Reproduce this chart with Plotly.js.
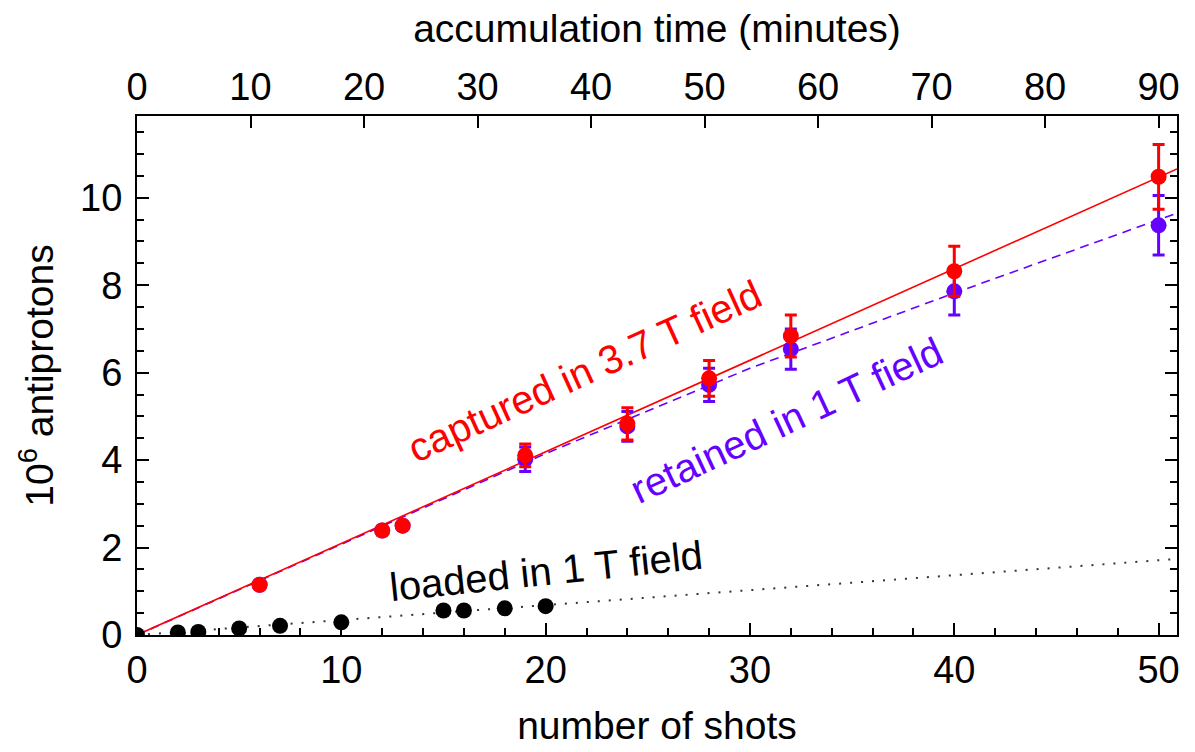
<!DOCTYPE html>
<html>
<head>
<meta charset="utf-8">
<script src="https://cdn.plot.ly/plotly-3.0.1.min.js"></script>
<style>html,body{margin:0;padding:0;background:#fff;}#chart{width:1195px;height:752px;}</style>
</head>
<body>
<div id="chart"></div>
<script>
// ---- data ----
const shotsLoaded = [0, 2, 3, 5, 7, 10, 15, 16, 18, 20];
const loaded      = [0, 0.06, 0.07, 0.15, 0.21, 0.29, 0.56, 0.56, 0.61, 0.66];

const shotsCaptured = [6, 12, 13, 19, 24, 28, 32, 40, 50];
const captured      = [1.15, 2.39, 2.50, 4.11, 4.83, 5.87, 6.84, 8.32, 10.48];
const capturedErr   = [0, 0, 0, 0.26, 0.37, 0.41, 0.48, 0.57, 0.74];

const shotsRetained = [6, 12, 13, 19, 24, 28, 32, 40, 50];
const retained      = [1.15, 2.39, 2.50, 4.02, 4.77, 5.72, 6.54, 7.86, 9.37];
const retainedErr   = [0, 0, 0, 0.28, 0.34, 0.38, 0.46, 0.54, 0.68];

// fitted lines as drawn in the reference
const fitCapturedX = [0, 50.9];
const fitCapturedY = [0, 10.66];
const fitRetainedX = [0, 20, 30, 40, 50.9];
const fitRetainedY = [0, 4.15, 6.1, 7.82, 9.65];
const fitLoadedX   = [0, 50.9];
const fitLoadedY   = [0, 1.74];

const xTicks = [0, 10, 20, 30, 40, 50];
const minuteTicks = [0, 10, 20, 30, 40, 50, 60, 70, 80, 90];
const yTicks = [0, 2, 4, 6, 8, 10];

const xMax = 50.9;
const minutesPerShot = 1.8;

const RED = '#ff0000', BLUE = '#6600ff', BLACK = '#000000';
const FONT = 'Liberation Sans, Arial, sans-serif';

const traces = [
  {x: fitLoadedX, y: fitLoadedY, mode: 'lines', line: {color: '#333', width: 2, dash: '2px,9px'}, hoverinfo: 'skip'},
  {x: fitRetainedX, y: fitRetainedY, mode: 'lines', line: {color: BLUE, width: 1.6, dash: '9px,6px'}, hoverinfo: 'skip'},
  {x: fitCapturedX, y: fitCapturedY, mode: 'lines', line: {color: RED, width: 1.6}, hoverinfo: 'skip'},
  {x: shotsRetained, y: retained, mode: 'markers', marker: {color: BLUE, size: 16},
   error_y: {type: 'data', array: retainedErr, visible: true, color: BLUE, thickness: 3, width: 6}},
  {x: shotsCaptured, y: captured, mode: 'markers', marker: {color: RED, size: 16},
   error_y: {type: 'data', array: capturedErr, visible: true, color: RED, thickness: 3, width: 6}},
  {x: shotsLoaded, y: loaded, mode: 'markers', marker: {color: BLACK, size: 16}},
  {x: [0], y: [0], xaxis: 'x2', mode: 'markers', marker: {opacity: 0}, hoverinfo: 'skip'}
];

const layout = {
  width: 1195, height: 752,
  margin: {l: 137, r: 18, t: 116, b: 117},
  paper_bgcolor: '#fff', plot_bgcolor: '#fff',
  showlegend: false,
  font: {family: FONT, color: '#000'},
  xaxis: {
    range: [0, xMax], showgrid: false, zeroline: false,
    showline: true, linecolor: '#000', linewidth: 2, mirror: true,
    tickmode: 'array', tickvals: xTicks, ticktext: xTicks.map(String),
    ticks: 'inside', ticklen: 12, tickwidth: 2, tickcolor: '#000',
    minor: {dtick: 2, tick0: 0, ticks: 'inside', ticklen: 7, tickwidth: 2, tickcolor: '#000', showgrid: false},
    tickfont: {size: 38, family: FONT},
    title: {text: 'number of shots', font: {size: 39, family: FONT}, standoff: 22}
  },
  xaxis2: {
    overlaying: 'x', side: 'top', anchor: 'y',
    range: [0, xMax * minutesPerShot], showgrid: false, zeroline: false,
    showline: false,
    tickmode: 'array', tickvals: minuteTicks, ticktext: minuteTicks.map(String),
    ticks: 'inside', ticklen: 12, tickwidth: 2, tickcolor: '#000',
    ticklabelstandoff: 7,
    tickfont: {size: 38, family: FONT},
    title: {text: 'accumulation time (minutes)', font: {size: 39, family: FONT}, standoff: 11}
  },
  yaxis: {
    range: [0, 11.87], showgrid: false, zeroline: false,
    showline: true, linecolor: '#000', linewidth: 2, mirror: 'ticks',
    tickmode: 'array', tickvals: yTicks, ticktext: yTicks.map(String),
    ticks: 'inside', ticklen: 12, tickwidth: 2, tickcolor: '#000',
    ticklabelstandoff: 5,
    minor: {dtick: 0.5, tick0: 0, ticks: 'inside', ticklen: 7, tickwidth: 2, tickcolor: '#000', showgrid: false},
    tickfont: {size: 38, family: FONT},
    title: {text: '10<sup>6</sup> antiprotons', font: {size: 39, family: FONT}, standoff: 14}
  },
  annotations: [
    {text: 'captured in 3.7 T field', x: 21.9, y: 6.04, xref: 'x', yref: 'y', showarrow: false,
     textangle: -24.5, font: {size: 40, color: RED, family: FONT}},
    {text: 'retained in 1 T field', x: 31.8, y: 4.92, xref: 'x', yref: 'y', showarrow: false,
     textangle: -25, font: {size: 40, color: BLUE, family: FONT}},
    {text: 'loaded in 1 T field', x: 20.0, y: 1.46, xref: 'x', yref: 'y', showarrow: false,
     textangle: -6, font: {size: 40, color: BLACK, family: FONT}}
  ]
};

Plotly.newPlot('chart', traces, layout, {staticPlot: true, displayModeBar: false});
</script>
</body>
</html>
